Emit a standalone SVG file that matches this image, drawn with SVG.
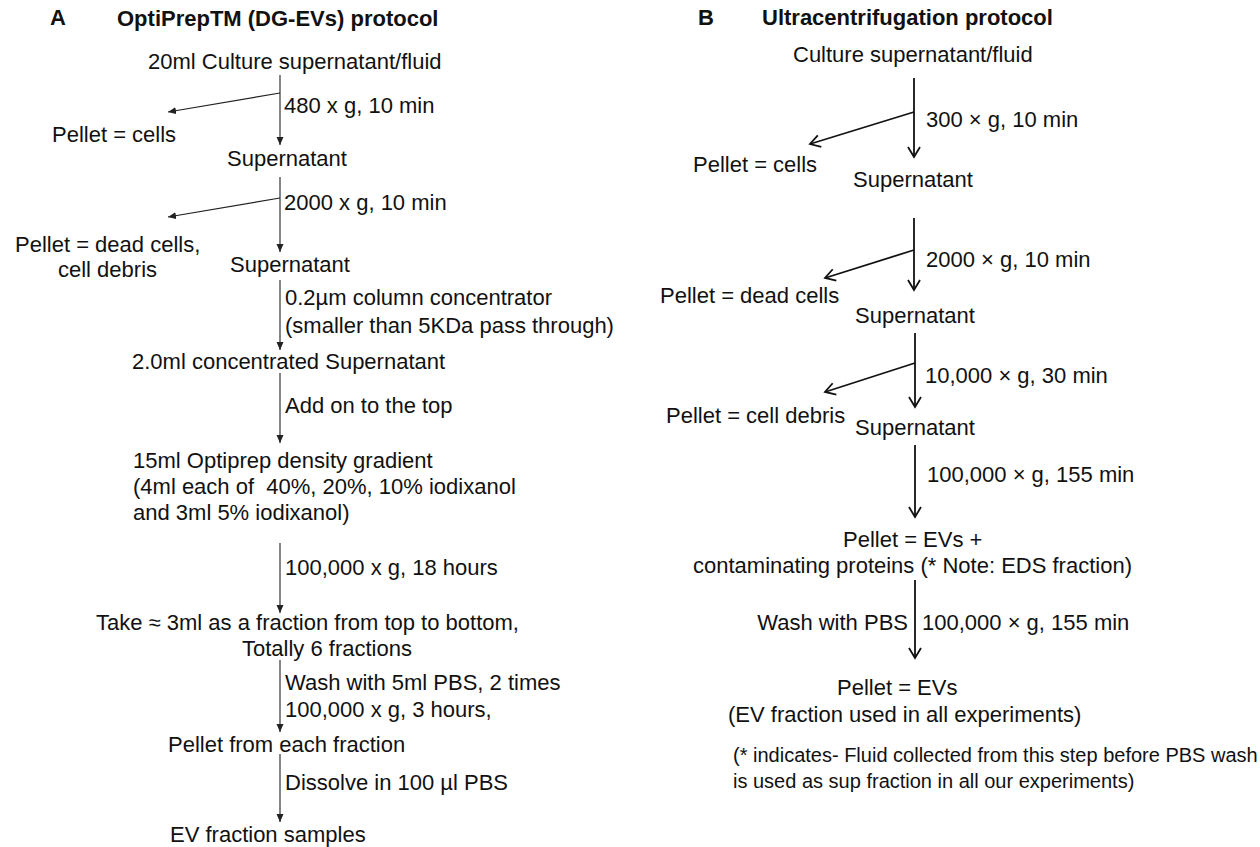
<svg xmlns="http://www.w3.org/2000/svg" width="1260" height="847" viewBox="0 0 1260 847">
<style>
text{font-family:"Liberation Sans",Arial,sans-serif;font-size:22px;fill:#111;}
.b{font-weight:bold;}
.fn{font-size:20px;}
.la{stroke:#222;stroke-width:1.1;fill:none;}
.ra{stroke:#111;stroke-width:1.8;fill:none;}
</style>
<defs>
<marker id="tri" markerUnits="userSpaceOnUse" markerWidth="10" markerHeight="8" refX="8" refY="3.5" orient="auto">
<path d="M0,0 L8,3.5 L0,7 Z" fill="#222"/>
</marker>
<marker id="vee" markerUnits="userSpaceOnUse" markerWidth="14" markerHeight="16" refX="11" refY="7" orient="auto">
<path d="M1,1 L11,7 L1,13" fill="none" stroke="#111" stroke-width="1.8" stroke-linejoin="miter"/>
</marker>
</defs>
<rect width="1260" height="847" fill="#fff"/>

<g id="connectors">
<g id="connectors-a">
<line class="la" x1="280" y1="75" x2="280" y2="145" marker-end="url(#tri)"/>
<line class="la" x1="280" y1="93" x2="168" y2="112" marker-end="url(#tri)"/>
<line class="la" x1="280" y1="177" x2="280" y2="252" marker-end="url(#tri)"/>
<line class="la" x1="280" y1="198" x2="168" y2="217" marker-end="url(#tri)"/>
<line class="la" x1="280" y1="280" x2="280" y2="350" marker-end="url(#tri)"/>
<line class="la" x1="280" y1="373" x2="280" y2="443" marker-end="url(#tri)"/>
<line class="la" x1="280" y1="543" x2="280" y2="613" marker-end="url(#tri)"/>
<line class="la" x1="280" y1="660" x2="280" y2="732" marker-end="url(#tri)"/>
<line class="la" x1="280" y1="754" x2="280" y2="822" marker-end="url(#tri)"/>
</g>
<g id="connectors-b">
<line class="ra" x1="914" y1="78" x2="914" y2="157" marker-end="url(#vee)"/>
<line class="ra" x1="914" y1="112" x2="810" y2="144" marker-end="url(#vee)"/>
<line class="ra" x1="914" y1="218" x2="914" y2="290" marker-end="url(#vee)"/>
<line class="ra" x1="914" y1="250" x2="825" y2="278" marker-end="url(#vee)"/>
<line class="ra" x1="915" y1="333" x2="915" y2="407" marker-end="url(#vee)"/>
<line class="ra" x1="915" y1="363" x2="825" y2="392" marker-end="url(#vee)"/>
<line class="ra" x1="915" y1="445" x2="915" y2="517" marker-end="url(#vee)"/>
<line class="ra" x1="915" y1="580" x2="915" y2="658" marker-end="url(#vee)"/>
</g>
</g>

<g id="panel-a-title">
<text class="b" x="50" y="25">A</text>
<text class="b" x="117" y="26">OptiPrepTM (DG-EVs) protocol</text>
</g>
<g id="a-start"><text x="148" y="69">20ml Culture supernatant/fluid</text></g>
<g id="a-step1"><text x="284" y="113">480 x g, 10 min</text></g>
<g id="a-pellet1"><text x="52" y="142">Pellet = cells</text></g>
<g id="a-sup1"><text x="227" y="166">Supernatant</text></g>
<g id="a-step2"><text x="284" y="210">2000 x g, 10 min</text></g>
<g id="a-pellet2">
<text x="15" y="252">Pellet = dead cells,</text>
<text x="58" y="277">cell debris</text>
</g>
<g id="a-sup2"><text x="230" y="272">Supernatant</text></g>
<g id="a-step3">
<text x="285" y="305">0.2µm column concentrator</text>
<text x="285" y="333">(smaller than 5KDa pass through)</text>
</g>
<g id="a-conc"><text x="132" y="369">2.0ml concentrated Supernatant</text></g>
<g id="a-step4"><text x="285" y="413">Add on to the top</text></g>
<g id="a-gradient">
<text x="133" y="468">15ml Optiprep density gradient</text>
<text x="133" y="494" xml:space="preserve">(4ml each of  40%, 20%, 10% iodixanol</text>
<text x="133" y="520">and 3ml 5% iodixanol)</text>
</g>
<g id="a-step5"><text x="285" y="575">100,000 x g, 18 hours</text></g>
<g id="a-fractions">
<text x="96" y="630">Take ≈ 3ml as a fraction from top to bottom,</text>
<text x="242" y="656">Totally 6 fractions</text>
</g>
<g id="a-step6">
<text x="285" y="690">Wash with 5ml PBS, 2 times</text>
<text x="285" y="717">100,000 x g, 3 hours,</text>
</g>
<g id="a-pellet3"><text x="168" y="752">Pellet from each fraction</text></g>
<g id="a-step7"><text x="285" y="790">Dissolve in 100 µl PBS</text></g>
<g id="a-end"><text x="170" y="842">EV fraction samples</text></g>

<g id="panel-b-title">
<text class="b" x="698" y="25">B</text>
<text class="b" x="762" y="25">Ultracentrifugation protocol</text>
</g>
<g id="b-start"><text x="793" y="62">Culture supernatant/fluid</text></g>
<g id="b-step1"><text x="926" y="127">300 × g, 10 min</text></g>
<g id="b-pellet1"><text x="693" y="172">Pellet = cells</text></g>
<g id="b-sup1"><text x="853" y="187">Supernatant</text></g>
<g id="b-step2"><text x="926" y="267">2000 × g, 10 min</text></g>
<g id="b-pellet2"><text x="660" y="303">Pellet = dead cells</text></g>
<g id="b-sup2"><text x="855" y="323">Supernatant</text></g>
<g id="b-step3"><text x="925" y="383">10,000 × g, 30 min</text></g>
<g id="b-pellet3"><text x="666" y="423">Pellet = cell debris</text></g>
<g id="b-sup3"><text x="855" y="435">Supernatant</text></g>
<g id="b-step4"><text x="927" y="482">100,000 × g, 155 min</text></g>
<g id="b-pellet4">
<text x="843" y="547">Pellet = EVs +</text>
<text x="693" y="573">contaminating proteins (* Note: EDS fraction)</text>
</g>
<g id="b-step5">
<text x="908" y="630" text-anchor="end">Wash with PBS</text>
<text x="922" y="630">100,000 × g, 155 min</text>
</g>
<g id="b-end">
<text x="837" y="695">Pellet = EVs</text>
<text x="728" y="722">(EV fraction used in all experiments)</text>
</g>
<g id="b-note">
<text class="fn" x="733" y="762">(* indicates- Fluid collected from this step before PBS wash</text>
<text class="fn" x="733" y="788">is used as sup fraction in all our experiments)</text>
</g>
</svg>
